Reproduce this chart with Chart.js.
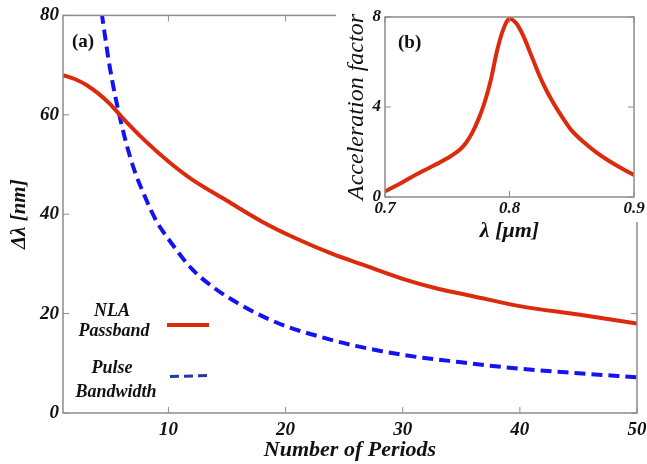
<!DOCTYPE html>
<html>
<head>
<meta charset="utf-8">
<script src="https://cdn.jsdelivr.net/npm/chart.js@4.4.1/dist/chart.umd.min.js"></script>
<style>
  html, body { margin: 0; padding: 0; background: #fff; }
  #wrap { position: relative; width: 647px; height: 464px; }
  #main { position: absolute; left: 0; top: 0; }
  #inset { position: absolute; left: 336px; top: 0; }
</style>
</head>
<body>
<div id="wrap">
  <canvas id="main" width="647" height="464"></canvas>
  <canvas id="inset" width="311" height="245"></canvas>
</div>
<script>
// main plot (a)
const passPeriods = [1, 2, 3, 4, 5, 6, 8, 10, 12, 15, 18, 21, 24, 27, 30, 33, 36, 40, 45, 50];
const passband = [68, 67.2, 66, 64.3, 62.2, 59.6, 54.8, 50.6, 47, 42.7, 38.5, 35, 32, 29.5, 27, 25, 23.5, 21.5, 19.8, 18];
const bwPeriods = [4.3, 5, 6, 7, 8, 9, 10, 12, 14, 16, 18, 20, 23, 26, 30, 35, 40, 45, 50];
const bandwidth = [80.5, 69.5, 58, 49.5, 43.5, 38.5, 35, 29, 25, 22, 19.5, 17.5, 15.3, 13.5, 11.7, 10.2, 8.9, 8, 7.2];
const xTicks = [10, 20, 30, 40, 50];
const yTicks = [0, 20, 40, 60, 80];

// inset (b)
const lambda = [0.70, 0.71, 0.72, 0.73, 0.74, 0.75, 0.76, 0.765, 0.77, 0.775, 0.78, 0.785, 0.79, 0.795, 0.80,
  0.805, 0.808, 0.812, 0.816, 0.82, 0.824, 0.83, 0.835, 0.84, 0.846, 0.85, 0.86, 0.87, 0.88, 0.89, 0.90];
const accel = [0.25, 0.53, 0.84, 1.14, 1.42, 1.72, 2.1, 2.4, 2.85, 3.45, 4.2, 5.2, 6.5, 7.45, 7.92,
  7.75, 7.5, 7.05, 6.5, 5.95, 5.4, 4.7, 4.2, 3.75, 3.25, 2.95, 2.42, 1.97, 1.6, 1.28, 0.98];
const lamTicks = [0.7, 0.8, 0.9];
const accTicks = [0, 4, 8];

const RED = "#dc2a0c";
const BLUE = "#1414f0";
const AXIS = "#8c8c8c";
const SERIF = "'Liberation Serif', 'DejaVu Serif', serif";

function pts(xs, ys) {
  return xs.map((x, i) => ({ x: x, y: ys[i] }));
}

// box + inward ticks, matlab style
const boxTicks = {
  id: "boxTicks",
  afterDraw(chart) {
    const a = chart.chartArea;
    const ctx = chart.ctx;
    const sx = chart.scales.x, sy = chart.scales.y;
    ctx.save();
    ctx.strokeStyle = AXIS;
    ctx.lineWidth = 1.5;
    ctx.strokeRect(a.left, a.top, a.right - a.left, a.bottom - a.top);
    ctx.lineWidth = 1;
    ctx.beginPath();
    sx.ticks.forEach(t => {
      const px = sx.getPixelForValue(t.value);
      ctx.moveTo(px, a.bottom); ctx.lineTo(px, a.bottom - 6);
      ctx.moveTo(px, a.top); ctx.lineTo(px, a.top + 6);
    });
    sy.ticks.forEach(t => {
      const py = sy.getPixelForValue(t.value);
      ctx.moveTo(a.left, py); ctx.lineTo(a.left + 6, py);
      ctx.moveTo(a.right, py); ctx.lineTo(a.right - 6, py);
    });
    ctx.stroke();
    ctx.restore();
  }
};

const panelLabel = {
  id: "panelLabel",
  afterDraw(chart, args, opts) {
    const ctx = chart.ctx;
    ctx.save();
    ctx.fillStyle = "#111";
    ctx.font = "bold 19px " + SERIF;
    ctx.textBaseline = "middle";
    ctx.fillText(opts.text, chart.chartArea.left + opts.dx, chart.chartArea.top + opts.dy);
    ctx.restore();
  }
};

const sideLegend = {
  id: "sideLegend",
  afterDraw(chart) {
    const ctx = chart.ctx;
    ctx.save();
    ctx.fillStyle = "#111";
    ctx.font = "italic bold 18px " + SERIF;
    ctx.textAlign = "center";
    ctx.textBaseline = "middle";
    ctx.fillText("NLA", 112, 311);
    ctx.fillText("Passband", 114, 331);
    ctx.fillText("Pulse", 112, 368);
    ctx.fillText("Bandwidth", 116, 392);
    ctx.lineWidth = 4;
    ctx.strokeStyle = RED;
    ctx.beginPath(); ctx.moveTo(167, 325); ctx.lineTo(209, 325); ctx.stroke();
    ctx.lineWidth = 3;
    ctx.strokeStyle = "#2238a8";
    ctx.setLineDash([9, 5]);
    ctx.beginPath(); ctx.moveTo(170, 376.5); ctx.lineTo(208, 375.5); ctx.stroke();
    ctx.restore();
  }
};

const tickFont = { family: SERIF, size: 19, style: "italic", weight: "bold" };
const titleFont = { family: SERIF, size: 22, style: "italic", weight: "bold" };

new Chart(document.getElementById("main"), {
  type: "line",
  data: {
    datasets: [
      {
        label: "NLA Passband",
        data: pts(passPeriods, passband),
        borderColor: RED,
        borderWidth: 4,
        pointRadius: 0,
        cubicInterpolationMode: "monotone"
      },
      {
        label: "Pulse Bandwidth",
        data: pts(bwPeriods, bandwidth),
        borderColor: BLUE,
        borderWidth: 4,
        borderDash: [11, 6],
        pointRadius: 0,
        cubicInterpolationMode: "monotone"
      }
    ]
  },
  options: {
    responsive: false,
    animation: false,
    layout: { padding: { top: 15, right: 10, left: 0, bottom: 0 } },
    plugins: {
      legend: { display: false },
      tooltip: { enabled: false },
      panelLabel: { text: "(a)", dx: 9, dy: 27 }
    },
    scales: {
      x: {
        type: "linear",
        min: 1,
        max: 50,
        afterBuildTicks: s => { s.ticks = xTicks.map(v => ({ value: v })); },
        afterFit: s => { s.height = 51; s.paddingLeft = 0; s.paddingRight = 0; },
        grid: { display: false, drawTicks: false },
        border: { display: false },
        ticks: { font: tickFont, color: "#111", padding: 6 },
        title: { display: true, text: "Number of Periods", font: titleFont, color: "#111", padding: 0 }
      },
      y: {
        min: 0,
        max: 80,
        afterBuildTicks: s => { s.ticks = yTicks.map(v => ({ value: v })); },
        afterFit: s => { s.width = 63; },
        grid: { display: false, drawTicks: false },
        border: { display: false },
        ticks: { font: tickFont, color: "#111", padding: 4 },
        title: { display: true, text: "Δλ [nm]", font: { family: SERIF, size: 21, style: "italic", weight: "bold" },
          color: "#111", padding: { top: 7, bottom: 0 } }
      }
    }
  },
  plugins: [boxTicks, panelLabel, sideLegend]
});

const whiteBox = {
  id: "whiteBox",
  beforeDraw(chart) {
    const ctx = chart.ctx;
    ctx.save();
    ctx.fillStyle = "#fff";
    ctx.fillRect(0, 0, 311, 222);
    ctx.restore();
  }
};

new Chart(document.getElementById("inset"), {
  type: "line",
  data: {
    datasets: [
      {
        label: "Acceleration factor",
        data: pts(lambda, accel),
        borderColor: RED,
        borderWidth: 4,
        pointRadius: 0,
        cubicInterpolationMode: "monotone"
      }
    ]
  },
  options: {
    responsive: false,
    animation: false,
    layout: { padding: { top: 17, right: 13, left: 0, bottom: 0 } },
    plugins: {
      legend: { display: false },
      tooltip: { enabled: false },
      panelLabel: { text: "(b)", dx: 13, dy: 26 }
    },
    scales: {
      x: {
        type: "linear",
        min: 0.7,
        max: 0.9,
        afterBuildTicks: s => { s.ticks = lamTicks.map(v => ({ value: v })); },
        afterFit: s => { s.height = 48; s.paddingLeft = 0; s.paddingRight = 0; },
        grid: { display: false, drawTicks: false },
        border: { display: false },
        ticks: { font: { family: SERIF, size: 17, style: "italic", weight: "bold" }, color: "#111", padding: 1,
          callback: v => v.toFixed(1) },
        title: { display: true, text: "λ [μm]", font: titleFont, color: "#111", padding: 0 }
      },
      y: {
        min: 0,
        max: 8,
        afterBuildTicks: s => { s.ticks = accTicks.map(v => ({ value: v })); },
        afterFit: s => { s.width = 49; },
        grid: { display: false, drawTicks: false },
        border: { display: false },
        ticks: { font: { family: SERIF, size: 17, style: "italic", weight: "bold" }, color: "#111", padding: 4 },
        title: { display: true, text: "Acceleration factor", font: { family: SERIF, size: 24, style: "italic" },
          color: "#111", padding: { top: 6, bottom: 0 } }
      }
    }
  },
  plugins: [whiteBox, boxTicks, panelLabel]
});
</script>
</body>
</html>
